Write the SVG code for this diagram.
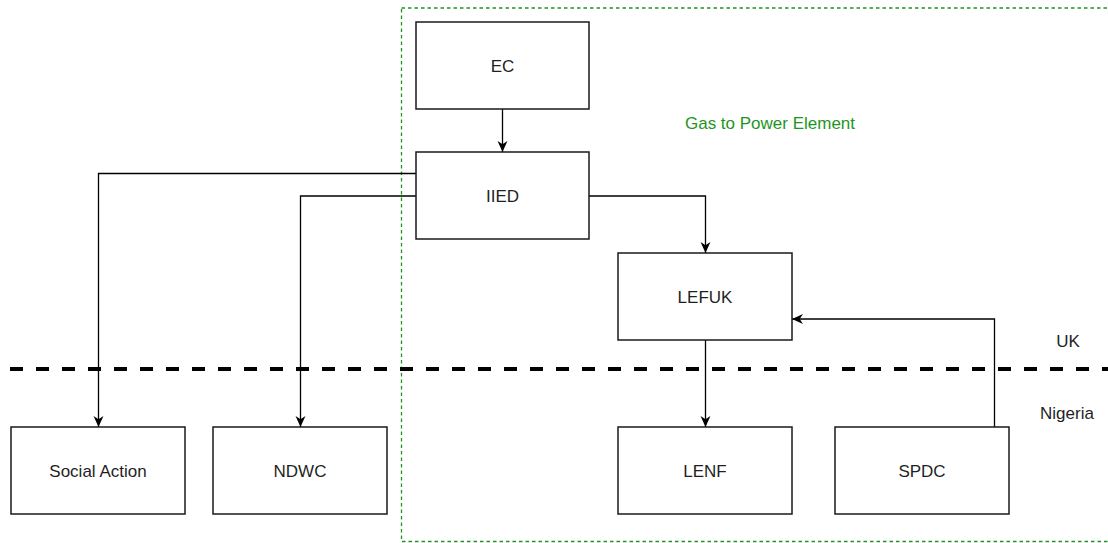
<svg xmlns="http://www.w3.org/2000/svg" width="1108" height="543" viewBox="0 0 1108 543">
<defs>
<style>
.node rect{fill:#ffffff;stroke:#1a1a1a;stroke-width:1.5}
.lbl{font-family:"Liberation Sans",Arial,sans-serif;font-size:17px;fill:#1f1f1f;text-anchor:middle;dominant-baseline:central}
.edge{fill:none;stroke:#000000;stroke-width:1.3}
.txt{font-family:"Liberation Sans",Arial,sans-serif;font-size:17px;text-anchor:middle}
</style>
<marker id="arr" viewBox="0 0 10 10" refX="10" refY="5" markerWidth="11" markerHeight="11" markerUnits="userSpaceOnUse" orient="auto">
<path d="M0,0.5 L10,5 L0,9.5 L3,5 z" fill="#000000"/>
</marker>
</defs>
<rect width="1108" height="543" fill="#ffffff"/>
<g id="gas-to-power-region">
<rect x="401.5" y="8" width="720" height="533.5" fill="none" stroke="#1e961e" stroke-width="1.3" stroke-dasharray="3.5 3"/>
<text class="txt" x="770" y="129" fill="#1e961e">Gas to Power Element</text>
</g>
<g id="border">
<line x1="10" y1="369" x2="1108" y2="369" stroke="#000000" stroke-width="4" stroke-dasharray="13 13"/>
<text class="txt" x="1068" y="347" fill="#1f1f1f">UK</text>
<text class="txt" x="1067" y="419" fill="#1f1f1f">Nigeria</text>
</g>
<g id="connectors">
<path class="edge" d="M502.5,109 V152" marker-end="url(#arr)"/>
<path class="edge" d="M416,173.5 H98.5 V427" marker-end="url(#arr)"/>
<path class="edge" d="M416,196 H300.5 V427" marker-end="url(#arr)"/>
<path class="edge" d="M589,196 H705.5 V253" marker-end="url(#arr)"/>
<path class="edge" d="M705.5,340 V427" marker-end="url(#arr)"/>
<path class="edge" d="M994.5,427 V319 H792" marker-end="url(#arr)"/>
</g>
<g id="EC" class="node"><rect x="416" y="22" width="173" height="87"/><text class="lbl" x="502.5" y="66">EC</text></g>
<g id="IIED" class="node"><rect x="416" y="152" width="173" height="87"/><text class="lbl" x="502.5" y="196">IIED</text></g>
<g id="LEFUK" class="node"><rect x="618" y="253" width="174" height="87"/><text class="lbl" x="705" y="297">LEFUK</text></g>
<g id="LENF" class="node"><rect x="618" y="427" width="174" height="87"/><text class="lbl" x="705" y="471">LENF</text></g>
<g id="SPDC" class="node"><rect x="835" y="427" width="174" height="87"/><text class="lbl" x="922" y="471">SPDC</text></g>
<g id="SocialAction" class="node"><rect x="11" y="427" width="174" height="87"/><text class="lbl" x="98" y="471">Social Action</text></g>
<g id="NDWC" class="node"><rect x="213" y="427" width="174" height="87"/><text class="lbl" x="300" y="471">NDWC</text></g>
</svg>
